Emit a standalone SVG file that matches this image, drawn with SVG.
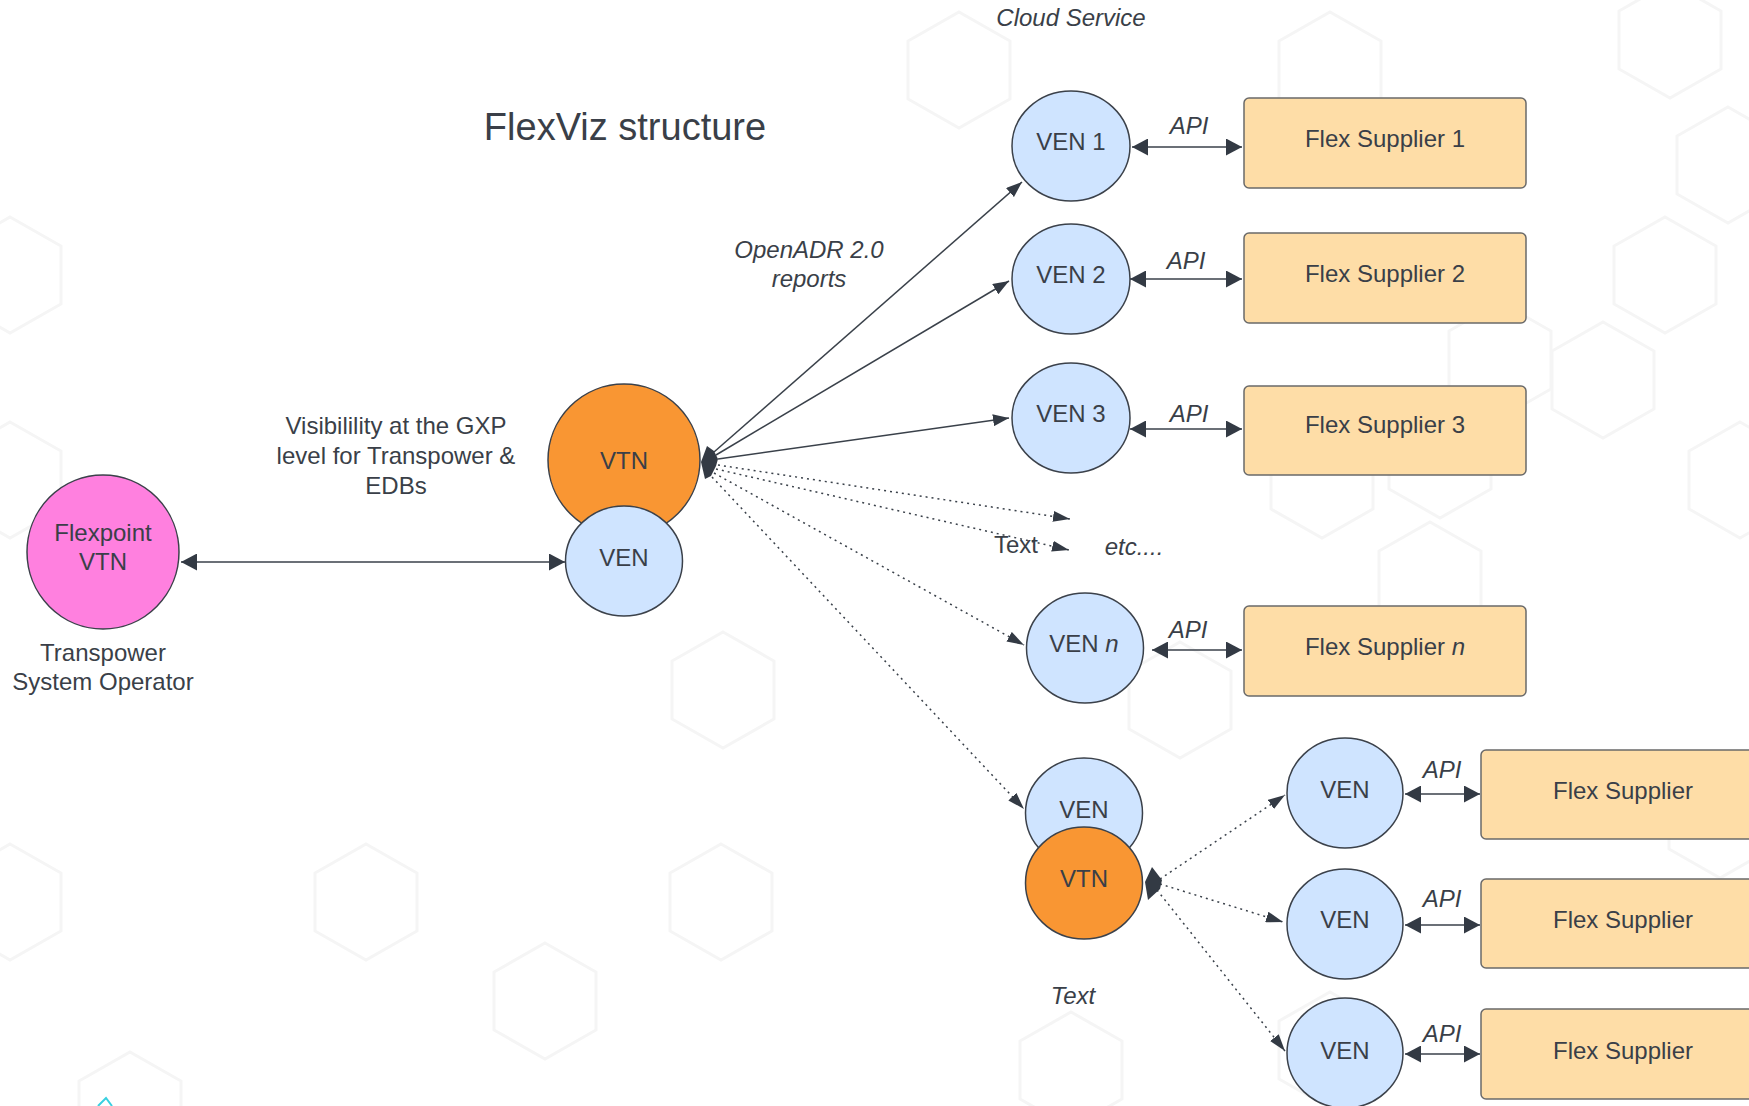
<svg xmlns="http://www.w3.org/2000/svg" width="1749" height="1106" viewBox="0 0 1749 1106">
  <style>
    text { font-family: "Liberation Sans", Arial, sans-serif; fill: #3a3f48; text-anchor: middle; }
    .t24 { font-size: 24px; }
    .it { font-style: italic; }
    .title { font-size: 38px; }
    .ven { fill: #cfe4ff; stroke: #3b414a; stroke-width: 1.5; }
    .vtn { fill: #f99633; stroke: #3b414a; stroke-width: 1.5; }
    .pink { fill: #ff80df; stroke: #3b414a; stroke-width: 1.5; }
    .sup { fill: #fedda7; stroke: #6a6a6a; stroke-width: 1.5; }
    .ln { fill: none; stroke: #3a414a; stroke-width: 1.5; }
    .dot { fill: none; stroke: #3a414a; stroke-width: 1.5; stroke-dasharray: 2 4; }
    .blob { fill: #333a44; }
    .hexbg { fill: none; stroke: #f5f5f5; stroke-width: 3; }
  </style>
  <defs>
    <marker id="ah" viewBox="0 0 16 12" refX="16" refY="6" markerWidth="16" markerHeight="12" markerUnits="userSpaceOnUse" orient="auto-start-reverse">
      <path d="M0,0 L16,6 L0,12 z" fill="#333a44"/>
    </marker>
    <marker id="api" viewBox="0 0 16 17" refX="16" refY="8.5" markerWidth="16" markerHeight="17" markerUnits="userSpaceOnUse" orient="auto-start-reverse">
      <path d="M0,0 L16,8.5 L0,17 z" fill="#333a44"/>
    </marker>
    <marker id="dh" viewBox="0 0 17 11" refX="17" refY="5.5" markerWidth="17" markerHeight="11" markerUnits="userSpaceOnUse" orient="auto">
      <path d="M0,0 L17,5.5 L0,11 z" fill="#333a44"/>
    </marker>
    <path id="hex" d="M0,-58 L51,-29 L51,29 L0,58 L-51,29 L-51,-29 z"/>
  </defs>

  <rect width="1749" height="1106" fill="#ffffff"/>

  <!-- faint honeycomb backdrop -->
  <g id="backdrop" class="hexbg">
    <use href="#hex" x="959" y="70"/>
    <use href="#hex" x="1330" y="70"/>
    <use href="#hex" x="1670" y="40"/>
    <use href="#hex" x="1728" y="165"/>
    <use href="#hex" x="1665" y="275"/>
    <use href="#hex" x="1500" y="360"/>
    <use href="#hex" x="1603" y="380"/>
    <use href="#hex" x="1440" y="460"/>
    <use href="#hex" x="1322" y="480"/>
    <use href="#hex" x="1430" y="580"/>
    <use href="#hex" x="1740" y="480"/>
    <use href="#hex" x="1720" y="820"/>
    <use href="#hex" x="1180" y="700"/>
    <use href="#hex" x="723" y="690"/>
    <use href="#hex" x="366" y="902"/>
    <use href="#hex" x="721" y="902"/>
    <use href="#hex" x="545" y="1001"/>
    <use href="#hex" x="1071" y="1070"/>
    <use href="#hex" x="130" y="1110"/>
    <use href="#hex" x="10" y="902"/>
    <use href="#hex" x="10" y="275"/>
    <use href="#hex" x="10" y="480"/>
    <use href="#hex" x="1330" y="1050"/>
  </g>
  <path d="M98,1106 L106,1098 L112,1106" fill="none" stroke="#39d0e0" stroke-width="2"/>

  <!-- labels -->
  <g id="labels">
    <text class="title" x="625" y="140">FlexViz structure</text>
    <text class="t24 it" x="1071" y="26">Cloud Service</text>
    <text class="t24 it" x="809" y="258">OpenADR 2.0</text>
    <text class="t24 it" x="809" y="287">reports</text>
    <text class="t24" x="396" y="434">Visibilility at the GXP</text>
    <text class="t24" x="396" y="464">level for Transpower &amp;</text>
    <text class="t24" x="396" y="494">EDBs</text>
    <text class="t24" x="103" y="661">Transpower</text>
    <text class="t24" x="103" y="690">System Operator</text>
    <text class="t24 it" x="1134" y="555">etc....</text>
    <text class="t24 it" x="1073" y="1004">Text</text>
    <text class="t24 it" x="1189" y="134">API</text>
    <text class="t24 it" x="1186" y="269">API</text>
    <text class="t24 it" x="1189" y="422">API</text>
    <text class="t24 it" x="1188" y="638">API</text>
    <text class="t24 it" x="1442" y="778">API</text>
    <text class="t24 it" x="1442" y="907">API</text>
    <text class="t24 it" x="1442" y="1042">API</text>
  </g>

  <!-- connectors -->
  <g id="connectors">
    <line class="ln" x1="181" y1="562" x2="565" y2="562" marker-start="url(#api)" marker-end="url(#api)"/>
    <line class="ln" x1="714" y1="452" x2="1022" y2="182" marker-end="url(#ah)"/>
    <line class="ln" x1="716" y1="455" x2="1009" y2="281" marker-end="url(#ah)"/>
    <line class="ln" x1="718" y1="459" x2="1009" y2="418" marker-end="url(#ah)"/>
    <line class="dot" x1="718" y1="465" x2="1070" y2="519" marker-end="url(#dh)"/>
    <line class="dot" x1="716" y1="469" x2="1069" y2="550" marker-end="url(#dh)"/>
    <line class="dot" x1="714" y1="473" x2="1024" y2="645" marker-end="url(#dh)"/>
    <line class="dot" x1="712" y1="477" x2="1024" y2="809" marker-end="url(#dh)"/>
    <polygon class="blob" points="701,462 707,446 714,451 718,459 716,466 711,476 705,479"/>

    <line class="dot" x1="1160" y1="879" x2="1285" y2="795" marker-end="url(#dh)"/>
    <line class="dot" x1="1160" y1="884" x2="1283" y2="922" marker-end="url(#dh)"/>
    <line class="dot" x1="1157" y1="890" x2="1285" y2="1051" marker-end="url(#dh)"/>
    <polygon class="blob" points="1145,882 1152,867 1162,880 1160,889 1148,900"/>

    <line class="ln" x1="1132" y1="147" x2="1242" y2="147" marker-start="url(#api)" marker-end="url(#api)"/>
    <line class="ln" x1="1130" y1="279" x2="1242" y2="279" marker-start="url(#api)" marker-end="url(#api)"/>
    <line class="ln" x1="1130" y1="429" x2="1242" y2="429" marker-start="url(#api)" marker-end="url(#api)"/>
    <line class="ln" x1="1152" y1="650" x2="1242" y2="650" marker-start="url(#api)" marker-end="url(#api)"/>
    <line class="ln" x1="1405" y1="794" x2="1480" y2="794" marker-start="url(#api)" marker-end="url(#api)"/>
    <line class="ln" x1="1405" y1="925" x2="1480" y2="925" marker-start="url(#api)" marker-end="url(#api)"/>
    <line class="ln" x1="1405" y1="1054" x2="1480" y2="1054" marker-start="url(#api)" marker-end="url(#api)"/>
    <text class="t24" x="1016" y="553">Text</text>
  </g>

  <!-- nodes -->
  <g id="flexpoint-vtn">
    <ellipse class="pink" cx="103" cy="552" rx="76" ry="77"/>
    <text class="t24" x="103" y="541">Flexpoint</text>
    <text class="t24" x="103" y="570">VTN</text>
  </g>
  <g id="vtn-main">
    <ellipse class="vtn" cx="624" cy="460" rx="76" ry="76"/>
    <text class="t24" x="624" y="469">VTN</text>
  </g>
  <g id="ven-main">
    <ellipse class="ven" cx="624" cy="561" rx="58.5" ry="55"/>
    <text class="t24" x="624" y="566">VEN</text>
  </g>

  <g id="ven-1">
    <ellipse class="ven" cx="1071" cy="146" rx="59" ry="55"/>
    <text class="t24" x="1071" y="150">VEN 1</text>
  </g>
  <g id="ven-2">
    <ellipse class="ven" cx="1071" cy="279" rx="59" ry="55"/>
    <text class="t24" x="1071" y="283">VEN 2</text>
  </g>
  <g id="ven-3">
    <ellipse class="ven" cx="1071" cy="418" rx="59" ry="55"/>
    <text class="t24" x="1071" y="422">VEN 3</text>
  </g>
  <g id="ven-n">
    <ellipse class="ven" cx="1085" cy="648" rx="58.5" ry="55"/>
    <text class="t24" x="1084" y="652">VEN <tspan class="it">n</tspan></text>
  </g>

  <g id="supplier-1">
    <rect class="sup" x="1244" y="98" width="282" height="90" rx="5"/>
    <text class="t24" x="1385" y="147">Flex Supplier 1</text>
  </g>
  <g id="supplier-2">
    <rect class="sup" x="1244" y="233" width="282" height="90" rx="5"/>
    <text class="t24" x="1385" y="282">Flex Supplier 2</text>
  </g>
  <g id="supplier-3">
    <rect class="sup" x="1244" y="386" width="282" height="89" rx="5"/>
    <text class="t24" x="1385" y="433">Flex Supplier 3</text>
  </g>
  <g id="supplier-n">
    <rect class="sup" x="1244" y="606" width="282" height="90" rx="5"/>
    <text class="t24" x="1385" y="655">Flex Supplier <tspan class="it">n</tspan></text>
  </g>

  <g id="ven-sub">
    <ellipse class="ven" cx="1084" cy="813" rx="58.5" ry="55"/>
    <text class="t24" x="1084" y="818">VEN</text>
  </g>
  <g id="vtn-sub">
    <ellipse class="vtn" cx="1084" cy="883" rx="58.5" ry="56"/>
    <text class="t24" x="1084" y="887">VTN</text>
  </g>

  <g id="ven-a">
    <ellipse class="ven" cx="1345" cy="793" rx="58" ry="55"/>
    <text class="t24" x="1345" y="798">VEN</text>
  </g>
  <g id="ven-b">
    <ellipse class="ven" cx="1345" cy="924" rx="58" ry="55"/>
    <text class="t24" x="1345" y="928">VEN</text>
  </g>
  <g id="ven-c">
    <ellipse class="ven" cx="1345" cy="1053" rx="58" ry="55"/>
    <text class="t24" x="1345" y="1059">VEN</text>
  </g>

  <g id="supplier-a">
    <rect class="sup" x="1481" y="750" width="285" height="89" rx="5"/>
    <text class="t24" x="1623" y="799">Flex Supplier</text>
  </g>
  <g id="supplier-b">
    <rect class="sup" x="1481" y="879" width="285" height="89" rx="5"/>
    <text class="t24" x="1623" y="928">Flex Supplier</text>
  </g>
  <g id="supplier-c">
    <rect class="sup" x="1481" y="1009" width="285" height="90" rx="5"/>
    <text class="t24" x="1623" y="1059">Flex Supplier</text>
  </g>
</svg>
